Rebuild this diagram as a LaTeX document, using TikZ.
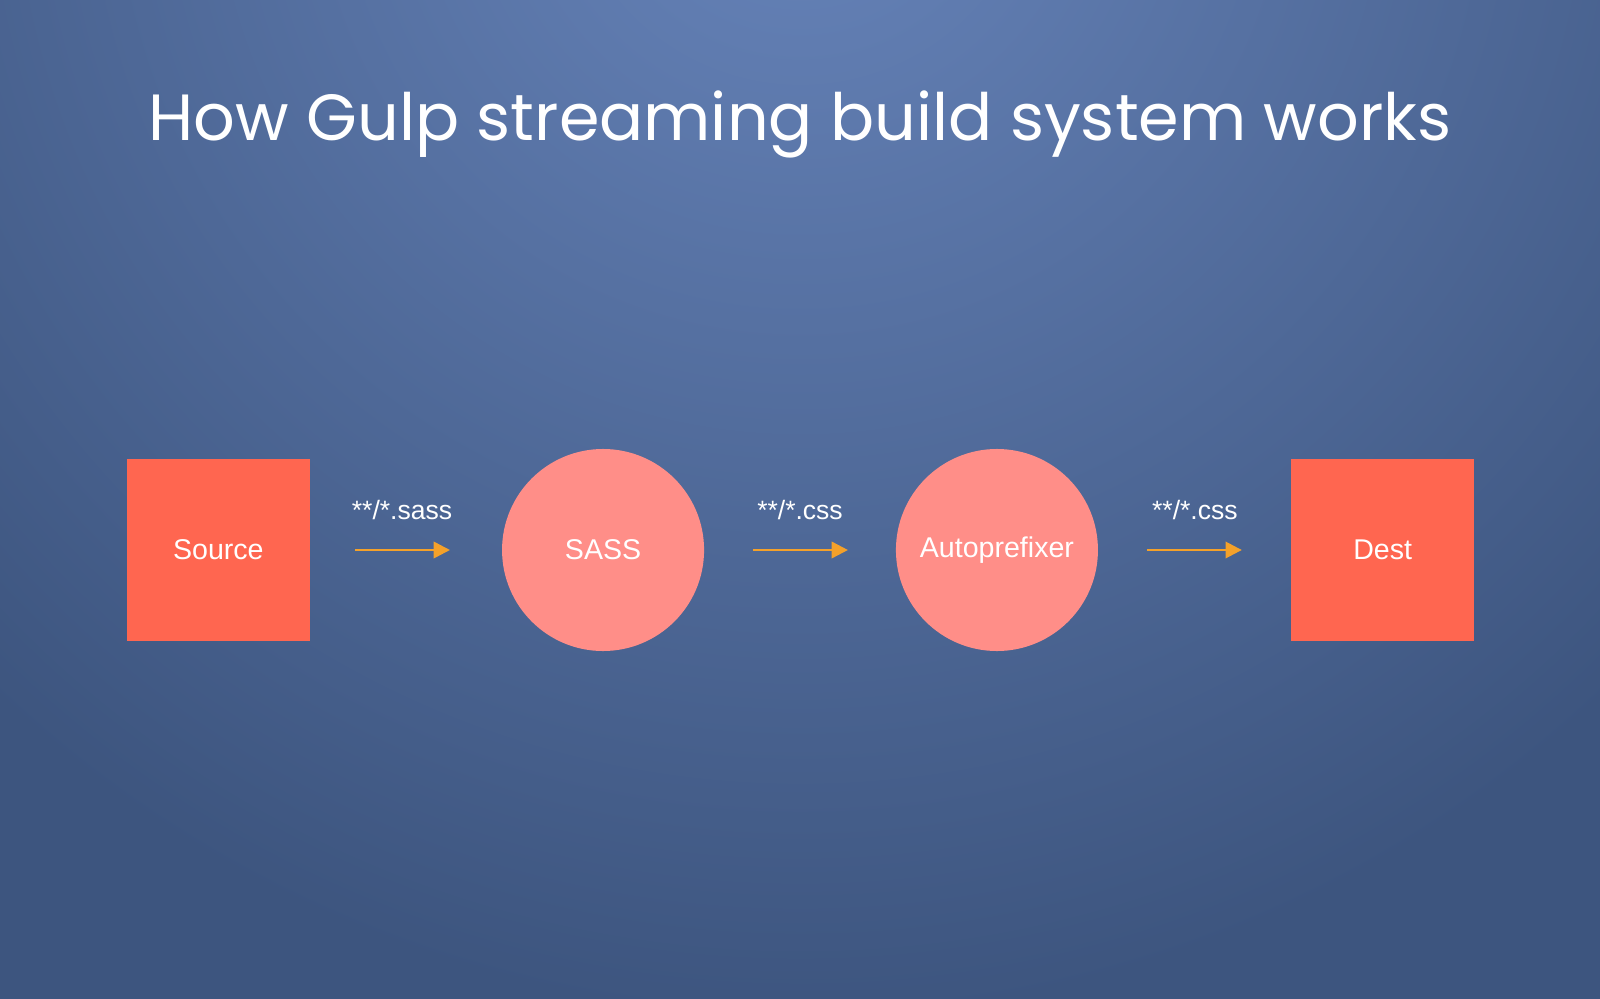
\documentclass[tikz,border=0pt]{standalone}
\usepackage{fontspec}
\setmainfont{Liberation Sans}
\newfontfamily\titlefont{Poppins}
\definecolor{bgdark}{HTML}{3D557F}
\definecolor{bglight}{HTML}{6784BA}
\definecolor{boxred}{HTML}{FF6650}
\definecolor{circpink}{HTML}{FF8E88}
\definecolor{arroworange}{HTML}{F4A12A}
\tikzset{
  boxnode/.style={fill=boxred,minimum size=179pt,inner sep=0,text=white,font=\fontsize{28}{30}\selectfont},
  circnode/.style={circle,fill=circpink,minimum size=198pt,inner sep=0,text=white,font=\fontsize{28}{30}\selectfont},
  flow/.style={draw=arroworange,line width=2.5pt,-{Triangle[length=16pt,width=16pt]}},
  lbl/.style={text=white,font=\fontsize{26}{28}\selectfont}
}
\usetikzlibrary{arrows.meta}
\begin{document}
\begin{tikzpicture}[x=1pt,y=-1pt]
\useasboundingbox (0,0) rectangle (1568,979);
\begin{scope}
\clip (0,0) rectangle (1568,979);
\fill[bgdark] (0,0) rectangle (1568,979);
\shade[inner color=bglight,outer color=bgdark] (784,-150) circle (1150);
\end{scope}
\node[text=white,font=\titlefont\fontsize{64}{70}\selectfont] (title) at (784,122) {How Gulp streaming build system works};
\node[boxnode] (src) at (214,539) {Source};
\node[circnode] (sass) at (591,539) {SASS};
\node[circnode] (auto) at (977,539) {Autoprefixer};
\node[boxnode] (dest) at (1355,539) {Dest};
\coordinate (a1s) at (348,539); \coordinate (a1e) at (441,539);
\coordinate (a2s) at (738,539); \coordinate (a2e) at (831,539);
\coordinate (a3s) at (1124,539); \coordinate (a3e) at (1217,539);
\draw[flow] (a1s) -- (a1e);
\draw[flow] (a2s) -- (a2e);
\draw[flow] (a3s) -- (a3e);
\node[lbl] (l1) at (394,500) {**/*.sass};
\node[lbl] (l2) at (784,500) {**/*.css};
\node[lbl] (l3) at (1171,500) {**/*.css};
\end{tikzpicture}
\end{document}
